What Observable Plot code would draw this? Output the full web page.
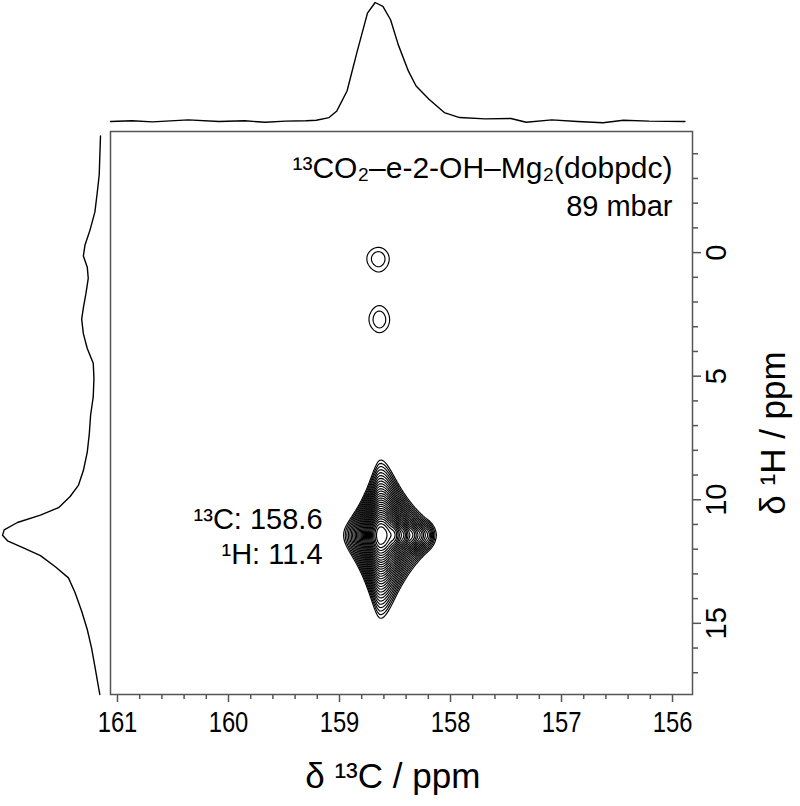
<!DOCTYPE html>
<html><head><meta charset="utf-8">
<script src="https://cdn.jsdelivr.net/npm/d3@7"></script>
<script src="https://cdn.jsdelivr.net/npm/@observablehq/plot@0.6"></script>
<style>
html,body{margin:0;padding:0;background:#fff;}
#fig{position:relative;width:800px;height:806px;background:#fff;}
#fig svg{position:absolute;left:0;top:0;}
</style></head><body><div id="fig"></div>
<script>
// ---------- axis ticks ----------
const xTicks = [161, 160, 159, 158, 157, 156];
const xMinorTicks = [160.8, 160.6, 160.4, 160.2, 159.8, 159.6, 159.4, 159.2, 158.8, 158.6, 158.4, 158.2,
  157.8, 157.6, 157.4, 157.2, 156.8, 156.6, 156.4, 156.2];
const yTicks = [0, 5, 10, 15];
const yMinorTicks = [-4, -3, -2, -1, 1, 2, 3, 4, 6, 7, 8, 9, 11, 12, 13, 14, 16, 17];

// ---------- 13C projection (top) ----------
const topPpm = [161.063, 160.869, 160.685, 160.362, 160.085, 159.855, 159.670, 159.486, 159.301, 159.209,
  159.094, 159.024, 158.932, 158.840, 158.748, 158.679, 158.609, 158.540, 158.471, 158.379,
  158.310, 158.194, 158.056, 157.918, 157.687, 157.456, 157.318, 157.087, 156.857, 156.626,
  156.442, 156.211, 155.888];
const topInt = [0.000, 0.006, -0.003, 0.014, 0.000, 0.006, -0.006, 0.003, 0.006, 0.011,
  0.033, 0.089, 0.256, 0.591, 0.911, 1.000, 0.967, 0.855, 0.646, 0.423,
  0.298, 0.187, 0.075, 0.033, 0.022, 0.025, -0.006, 0.014, 0.000, -0.011,
  0.011, 0.003, 0.000];

// ---------- 1H projection (left) ----------
const leftH = [-4.72, -3.90, -3.15, -2.40, -1.65, -0.90, -0.31, 0.14, 0.59, 1.04,
  1.64, 2.24, 2.69, 3.28, 3.88, 4.48, 5.08, 5.83, 6.58, 7.32,
  8.07, 8.82, 9.42, 9.87, 10.32, 10.62, 10.92, 11.22, 11.44, 11.66,
  11.96, 12.26, 12.71, 13.16, 13.76, 14.51, 15.25, 16.00, 16.75, 17.50, 17.88];
const leftInt = [0, 0.007, 0.013, 0.034, 0.057, 0.108, 0.158, 0.175, 0.135, 0.125,
  0.148, 0.175, 0.192, 0.175, 0.135, 0.074, 0.067, 0.074, 0.101, 0.114,
  0.135, 0.175, 0.226, 0.310, 0.428, 0.613, 0.848, 0.983, 1.0, 0.949,
  0.781, 0.613, 0.461, 0.327, 0.259, 0.192, 0.135, 0.091, 0.057, 0.024, 0.007];

// ---------- 2D peaks (read from the map) ----------
// main cross peak: centre and extent of the lowest contour on each side (ppm)
const mainC13 = 158.63, mainH1 = 11.43;
const mainExtent = {left: 0.333, right: 0.495, up: 3.04, down: 3.37};
// weak peaks
const smallC13 = [158.66, 158.65];
const smallH1 = [0.20, 2.72];
const smallAmp = [0.1045, 0.1006];
const smallWC = [0.21, 0.20];
const smallWH = [0.83, 0.90];
// ripples along the main peak row
const ridgeC13 = [158.50, 158.42, 158.34, 158.27, 158.20];
const ridgeAmp = [0.15, 0.12, 0.09, 0.06, 0.04];

// contour levels
const levels = [0.1, 0.10847, 0.11766, 0.12762, 0.13843, 0.15016, 0.16288, 0.17667, 0.19164, 0.20787,
  0.22547, 0.24457, 0.26528, 0.28775, 0.31213, 0.33856, 0.36724, 0.39835, 0.43208, 0.46868,
  0.50838, 0.55144, 0.59815, 0.64881, 0.70376, 0.76337, 0.82803, 0.89817];

// ---------- annotations ----------
const labelLines = ["¹³CO₂–e-2-OH–Mg₂(dobpdc)", "89 mbar"];
const labelC13 = [156.0, 156.0];
const labelH1 = [-3.42, -1.84];
const peakLabels = ["¹³C: 158.6", "¹H: 11.4"];
const peakLabelC13 = [159.153, 159.153];
const peakLabelH1 = [10.80, 12.23];

(function () {
  const W = 800, H = 806;
  const mL = 110, mR = 108, mT = 131, mB = 112;
  const xDomain = [161.063, 155.82];
  const yDomain = [-4.9, 17.88];

  // Lorentzian half-widths so that the lowest contour reaches the measured extents
  const u0 = Math.sqrt(1 / levels[0] - 1);
  const wL = mainExtent.left / u0, wR = mainExtent.right / u0;
  const wU = mainExtent.up / u0, wD = mainExtent.down / u0;

  function field(x, y) {
    const dx = x - mainC13, dy = y - mainH1;
    const u = dx / (dx > 0 ? wL : wR);
    const v = dy / (dy < 0 ? wU : wD);
    let f = 1 / ((1 + u * u) * (1 + v * v));
    for (let i = 0; i < smallC13.length; i++) {
      const a = (x - smallC13[i]) / smallWC[i], b = (y - smallH1[i]) / smallWH[i];
      f += smallAmp[i] * Math.exp(-(a * a + b * b) / 2);
    }
    for (let i = 0; i < ridgeC13.length; i++) {
      const a = (x - ridgeC13[i]) / 0.03, b = (y - mainH1) / 0.3;
      f += ridgeAmp[i] * Math.exp(-(a * a + b * b) / 2);
    }
    return f;
  }

  const FONT = "'Liberation Sans', Arial, Helvetica, sans-serif";
  const axisColor = "#555";

  const mainPlot = Plot.plot({
    width: W, height: H,
    marginLeft: mL, marginRight: mR, marginTop: mT, marginBottom: mB,
    style: {background: "transparent", fontFamily: FONT, fontSize: "29px", color: "black", overflow: "visible"},
    x: {domain: xDomain},
    y: {domain: yDomain, reverse: true},
    marks: [
      Plot.contour(null, {value: field, x1: xDomain[0], x2: xDomain[1], y1: yDomain[0], y2: yDomain[1],
        thresholds: levels, stroke: "black", strokeWidth: 1.15, fill: "none"}),
      Plot.frame({stroke: axisColor, strokeWidth: 1.5}),
      Plot.axisX(xTicks, {anchor: "bottom", tickSize: 8, tickPadding: 9, stroke: axisColor, strokeWidth: 1.5, fill: "black", fontSize: 29, label: null}),
      Plot.axisX(xMinorTicks, {anchor: "bottom", tickSize: 5, text: null, stroke: axisColor, strokeWidth: 1.5, label: null}),
      Plot.axisY(yTicks, {anchor: "right", tickSize: 8, text: null, stroke: axisColor, strokeWidth: 1.5, label: null}),
      Plot.axisY(yMinorTicks, {anchor: "right", tickSize: 5, text: null, stroke: axisColor, strokeWidth: 1.5, label: null}),
      Plot.text(yTicks, {y: d => d, text: d => String(d), frameAnchor: "right", dx: 24, rotate: -90,
        textAnchor: "middle", lineAnchor: "middle", fontSize: 29, fill: "black", ariaLabel: "y-tick-labels"}),
      Plot.text(["δ ¹³C / ppm"], {x: 158.52, frameAnchor: "bottom", dy: 82, textAnchor: "middle", lineAnchor: "middle", fontSize: 35, fill: "black"}),
      Plot.text(["δ ¹H / ppm"], {y: 7.3, frameAnchor: "right", dx: 81, rotate: -90, textAnchor: "middle", lineAnchor: "middle", fontSize: 35, fill: "black"}),
      Plot.text(labelLines, {x: (d, i) => labelC13[i], y: (d, i) => labelH1[i], text: d => d, textAnchor: "end", lineAnchor: "middle", fontSize: (d, i) => i === 0 ? 30 : 29, fill: "black"}),
      Plot.text(peakLabels, {x: (d, i) => peakLabelC13[i], y: (d, i) => peakLabelH1[i], text: d => d, textAnchor: "end", lineAnchor: "middle", fontSize: 29, fill: "black"})
    ]
  });

  const topPlot = Plot.plot({
    width: W, height: mT,
    marginLeft: mL, marginRight: mR, marginTop: 2, marginBottom: 10,
    style: {background: "transparent", overflow: "visible"},
    x: {domain: xDomain, axis: null},
    y: {domain: [0, 1], axis: null},
    marks: [
      Plot.line(topPpm, {x: d => d, y: (d, i) => topInt[i], stroke: "black", strokeWidth: 1.4})
    ]
  });

  const leftPlot = Plot.plot({
    width: mL, height: H,
    marginLeft: 2, marginRight: 10, marginTop: mT, marginBottom: mB,
    style: {background: "transparent", overflow: "visible"},
    x: {domain: [0, 1], reverse: true, axis: null},
    y: {domain: yDomain, reverse: true, axis: null},
    marks: [
      Plot.line(leftH, {x: (d, i) => leftInt[i], y: d => d, stroke: "black", strokeWidth: 1.4})
    ]
  });

  const fig = document.getElementById("fig");
  fig.appendChild(topPlot);
  fig.appendChild(leftPlot);
  fig.appendChild(mainPlot);

  // tick labels in the original use a condensed face: narrow them
  const narrow = mainPlot.querySelectorAll('g[aria-label="x-axis tick label"] text, g[aria-label="y-tick-labels"] text');
  narrow.forEach(t => {
    const len = t.getComputedTextLength();
    if (len > 0) {
      t.setAttribute("textLength", (len * 0.82).toFixed(1));
      t.setAttribute("lengthAdjust", "spacingAndGlyphs");
    }
  });
})();
</script>
</body></html>
